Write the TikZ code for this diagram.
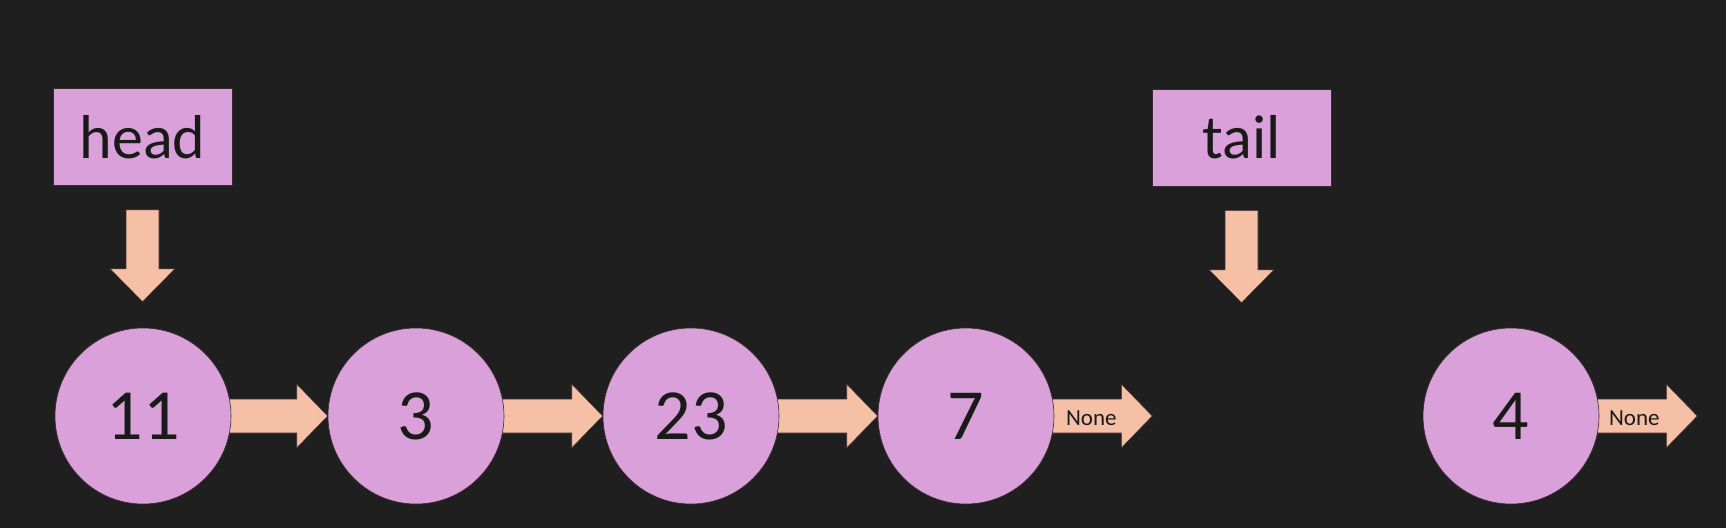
\documentclass[tikz,border=0pt]{standalone}
\usepackage{fontspec}
\setmainfont{Carlito}
\usetikzlibrary{calc}
\pgfdeclarelayer{back}
\pgfdeclarelayer{bg}
\pgfsetlayers{back,bg,main}
\definecolor{bgc}{HTML}{1F1F1F}
\definecolor{pinkc}{HTML}{D9A0D9}
\definecolor{peachc}{HTML}{F5C0A5}
\definecolor{txtc}{HTML}{1A1A1A}
\definecolor{edgec}{HTML}{3A2A30}
\tikzset{
  listnode/.style={circle, fill=pinkc, draw=edgec, line width=0.6pt, minimum size=176pt, inner sep=0pt, text=txtc, font=\fontsize{72}{80}\selectfont},
  labelbox/.style={rectangle, fill=pinkc, draw=edgec, line width=0.6pt, minimum width=179pt, minimum height=97pt, inner sep=0pt, text=txtc, font=\fontsize{62}{70}\selectfont},
  arrowshape/.style={fill=peachc, draw=edgec, line width=0.6pt, line join=miter},
  nonetext/.style={text=txtc, font=\fontsize{23}{26}\selectfont, inner sep=0pt}
}
\newcommand{\hconn}[2]{%
  \begin{pgfonlayer}{bg}
  \draw[arrowshape] ($(#1)+(-10,-17)$) -- ($(#2)+(-31,-17)$) -- ($(#2)+(-31,-32)$) -- (#2) -- ($(#2)+(-31,32)$) -- ($(#2)+(-31,17)$) -- ($(#1)+(-10,17)$) -- cycle;
  \end{pgfonlayer}}
\newcommand{\vconn}[2]{%
  \draw[arrowshape] ($(#1)+(-16.5,24)$) -- ($(#2)+(-16.5,-33)$) -- ($(#2)+(-32.5,-33)$) -- (#2) -- ($(#2)+(32.5,-33)$) -- ($(#2)+(16.5,-33)$) -- ($(#1)+(16.5,24)$) -- cycle;}
\begin{document}
\begin{tikzpicture}[x=1pt,y=-1pt]
\begin{pgfonlayer}{back}
\fill[bgc] (0,0) rectangle (1726,528);
\end{pgfonlayer}
\useasboundingbox (0,0) rectangle (1726,528);
\node[listnode] (c11) at (143,416) {11};
\node[listnode] (c3) at (416,416) {3};
\node[listnode] (c23) at (691,416) {23};
\node[listnode] (c7) at (966,416) {7};
\node[listnode] (c4) at (1511,416) {4};
\node[labelbox] (head) at (142.5,137) {head};
\node[labelbox] (tail) at (1241.5,137.5) {tail};
\coordinate (n7) at ($(c7.east)+(98,0)$);
\coordinate (n4) at ($(c4.east)+(98,0)$);
\coordinate (ht) at ($(head.south)+(0,116)$);
\coordinate (tt) at ($(tail.south)+(0,116.5)$);
\hconn{c11.east}{c3.west}
\hconn{c3.east}{c23.west}
\hconn{c23.east}{c7.west}
\hconn{c7.east}{n7}
\hconn{c4.east}{n4}
\vconn{head.south}{ht}
\vconn{tail.south}{tt}
\node[nonetext] (none7) at ($(c7.east)+(37,2)$) {None};
\node[nonetext] (none4) at ($(c4.east)+(35,2)$) {None};
\end{tikzpicture}
\end{document}
